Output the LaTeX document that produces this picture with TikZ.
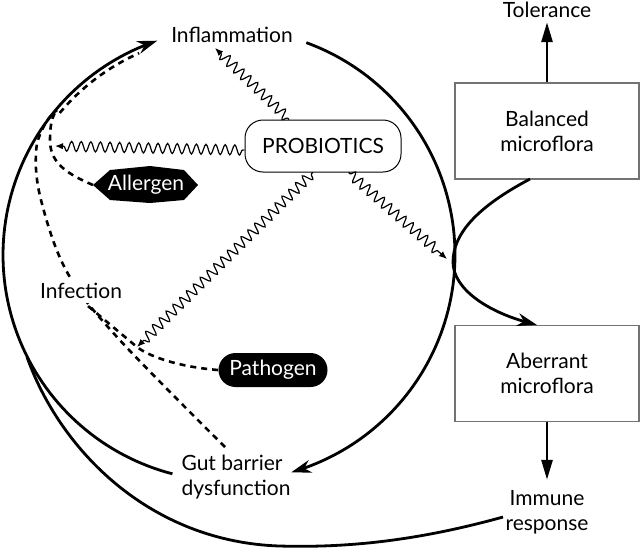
\documentclass[tikz,border=0pt]{standalone}
\usepackage{fontspec}
\setmainfont{Lato}
\usetikzlibrary{arrows.meta,decorations.pathmorphing,shapes.misc,calc}
\begin{document}
\begin{tikzpicture}[x=0.5pt,y=-0.5pt,
  font=\fontsize{10.5}{12.5}\selectfont,
  lbl/.style={inner sep=0pt, align=center},
  box/.style={draw=black!55, line width=0.8pt, minimum width=92pt, minimum height=48pt, align=center, inner sep=0pt},
  main/.style={line width=1.4pt},
  dsh/.style={line width=1.3pt, dash pattern=on 3pt off 2.5pt},
  wav/.style={line width=0.6pt, decorate, decoration={snake, amplitude=2.5pt, segment length=4.8pt, pre length=1pt, post length=4pt}},
  wtip/.style={-{Latex[length=4pt,width=3.2pt]}},
  bigtip/.style={-{Stealth[length=10pt,width=6.5pt]}},
  tritip/.style={-{Triangle[length=10pt,width=5.5pt]}}
]
\useasboundingbox (0,0) rectangle (640,548);

% nodes
\node[lbl] (infl) at (232,35) {Inflammation};
\node[lbl] (tol) at (547,10) {Tolerance};
\node[box] (bal) at (547,131) {Balanced\\microflora};
\node[box] (ab) at (547,373.5) {Aberrant\\microflora};
\node[lbl] (imm) at (547,512) {Immune\\response};
\node[draw, line width=0.5pt, rounded corners=9pt, minimum width=78pt, minimum height=26pt, inner sep=0pt] (prob) at (323,146) {PROBIOTICS};
\fill (93,185) -- (110,170) -- (150,166) -- (184,170) -- (198,185) -- (184,200) -- (150,203) -- (110,200) -- cycle;
\node[lbl, text=white] (all) at (146,185) {Allergen};
\node[rounded rectangle, fill=black, text=white, minimum width=54.5pt, minimum height=17pt, inner sep=0pt] (pat) at (273,370) {Pathogen};
\node[lbl, align=left] (gut) at (236,477) {Gut barrier\\dysfunction};

% coordinates
\coordinate (w1) at (215,48);
\coordinate (w2) at (55,146);
\coordinate (pj) at (137,347);
\coordinate (cross) at (447,259);
\coordinate (merge) at (57,110);
\coordinate (gs) at (225,447);
\coordinate (is) at (88,306);
\coordinate (at) at (93,185);
\coordinate (ims) at (503,517);
\coordinate (join) at (27,357);
\coordinate (ba) at (530,179);
\coordinate (ae) at (537,325);

% main cycle
\draw[main,bigtip] plot[domain=-70:74,samples=90] ({229+226*cos(\x)},{255+226*sin(\x)});
\draw[main,bigtip] plot[domain=104.5:251.5,samples=90] ({229+226*cos(\x)},{255+226*sin(\x)});

% immune response feedback
\draw[main] (ims) .. controls (420,540) and (350,548) .. (280,546) .. controls (150,542) and (60,450) .. (join);

% balanced -> aberrant
\draw[main,bigtip] (ba) .. controls (475,208) and (453,235) .. (453,262) .. controls (453,290) and (490,312) .. (ae);

% tolerance / immune arrows
\draw[main,tritip,shorten >=2pt] (bal.north) -- (tol.south);
\draw[main,tritip,shorten >=5pt] (ab.south) -- (imm.north);

% dashed
\draw[dsh] plot[smooth, tension=0.6] coordinates {(gs) (117,337) (67,272) (41,200) (36,152) (45,124) (merge)};
\draw[dsh] (at) .. controls (62,172) and (50,160) .. (50,140) .. controls (50,125) and (52,116) .. (merge);
\draw[dsh] plot[domain=220:246,samples=30] ({229+221*cos(\x)},{255+221*sin(\x)});
\draw[dsh] (pat.west) .. controls (180,367) and (150,357) .. (pj) -- (is);

% Infection label masks the dashed line behind it
\node[lbl, fill=white, inner sep=2pt] (inf) at (81,291) {Infection};

% wavy
\draw[wav,wtip] (prob.142) -- (w1);
\draw[wav,wtip] (prob.183) -- (w2);
\draw[wav,wtip] (prob.249) -- (pj);
\draw[wav,wtip] (prob.314) -- (cross);
\end{tikzpicture}
\end{document}
